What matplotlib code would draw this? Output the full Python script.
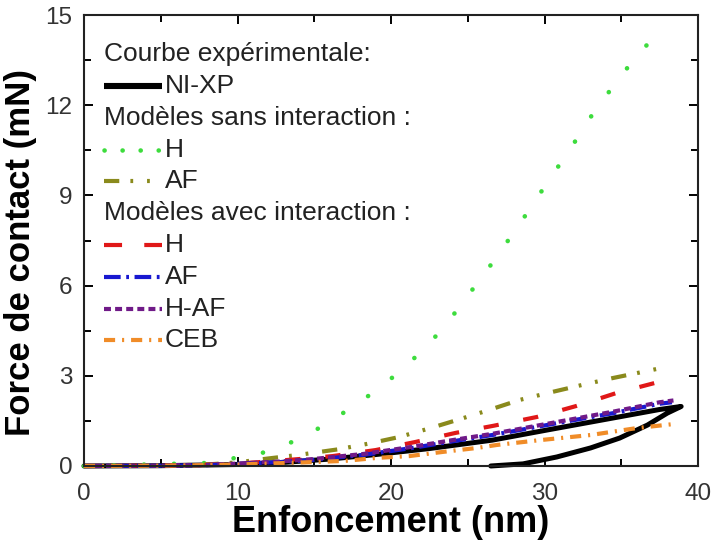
import numpy as np
import matplotlib
matplotlib.use("Agg")
import matplotlib.pyplot as plt

plt.rcParams["font.family"] = ["Liberation Sans", "DejaVu Sans"]
plt.rcParams["lines.scale_dashes"] = False

# -------- données (enfoncement en nm, force en mN) ----------
xp_x = [0, 5, 10, 13, 16, 19, 22.5, 26.6, 30.2, 34.5, 37.5, 38.9,
        38.0, 36.7, 34.9, 33.0, 30.8, 28.6, 26.5]
xp_y = [0, 0.01, 0.05, 0.12, 0.23, 0.38, 0.58, 0.86, 1.20, 1.60, 1.88, 1.98,
        1.76, 1.36, 0.93, 0.60, 0.30, 0.07, 0.0]

h_sans_x = [0, 8, 9.5, 11.1, 12.7, 14.27, 15.83, 17.39, 19.0, 20.55, 22.15,
            23.58, 24.82, 25.99, 27.10, 28.21, 29.25, 30.29, 31.40, 32.44,
            33.42, 34.66, 35.83, 37.26]
h_sans_y = [0, 0.1, 0.24, 0.35, 0.62, 0.95, 1.42, 1.93, 2.5, 3.13, 3.89,
            4.69, 5.55, 6.32, 7.12, 7.92, 8.71, 9.51, 10.34, 11.14,
            11.94, 12.74, 13.54, 14.33]

af_sans_x = [0, 5, 8, 10, 12, 14, 16.5, 18.5, 20.5, 22.5, 24.5, 26,
             28.4, 30.4, 32.4, 34.4, 36.4, 38]
af_sans_y = [0, 0.01, 0.05, 0.12, 0.25, 0.37, 0.55, 0.74, 0.96, 1.25, 1.56,
             1.80, 2.20, 2.45, 2.69, 2.92, 3.13, 3.30]

h_avec_x = [0, 5, 8, 10, 12, 14, 16.2, 19, 21.6, 24.2, 26.7, 29.5, 32.1,
            34.7, 37.4, 38]
h_avec_y = [0, 0.01, 0.04, 0.08, 0.15, 0.23, 0.33, 0.53, 0.80, 1.10, 1.34,
            1.63, 2.0, 2.43, 2.79, 2.92]

af_avec_x = [0, 5, 8, 10, 12.8, 14.9, 18.2, 21.4, 24, 26.6, 27.9, 31.2,
             34.5, 37.5, 38.3]
af_avec_y = [0, 0.01, 0.03, 0.07, 0.13, 0.20, 0.37, 0.60, 0.82, 1.03, 1.15,
             1.46, 1.76, 2.07, 2.12]

haf_avec_x = [0, 5, 8, 10, 12.8, 14.9, 18.2, 21.4, 24, 26.6, 27.9, 31.2,
              34.5, 37.5, 38.4]
haf_avec_y = [0, 0.01, 0.03, 0.08, 0.15, 0.23, 0.40, 0.64, 0.86, 1.07, 1.19,
              1.50, 1.81, 2.12, 2.18]

ceb_x = [0, 5, 8, 10, 12, 14.9, 17, 19.1, 21.2, 23.4, 25.6, 26.9, 29.7,
         33, 36, 38.5]
ceb_y = [0, 0.01, 0.03, 0.05, 0.08, 0.13, 0.17, 0.27, 0.33, 0.47, 0.60,
         0.70, 0.86, 1.03, 1.26, 1.40]

# couleur, épaisseur, tirets (en points)
STYLES = {
    "xp":      dict(color="black",   lw=3.6, ls="-"),
    "h_sans":  dict(color="#3ddc3d", lw=3.3, ls=(0, (0.1, 21.5)), cap="round",
                    leg_ls=(0, (0.1, 12.9))),
    "af_sans": dict(color="#8a8a1c", lw=3.0, ls=(0, (11, 8, 2, 10, 2, 10))),
    "h_avec":  dict(color="#e01818", lw=3.0, ls=(0, (11, 18)),
                    leg_ls=(0, (13, 16))),
    "af_avec": dict(color="#1818d0", lw=3.0, ls=(0, (12, 4, 2, 4))),
    "haf":     dict(color="#701a88", lw=3.0, ls=(0, (5, 3))),
    "ceb":     dict(color="#f08c28", lw=3.0, ls=(0, (8, 5, 1.5, 5))),
}

fig = plt.figure(figsize=(7.13, 5.44), dpi=100)
ax = fig.add_axes([0.1178, 0.1434, 0.979 - 0.1178, 0.9724 - 0.1434])

series = [
    (xp_x, xp_y, "xp"),
    (h_sans_x, h_sans_y, "h_sans"),
    (af_sans_x, af_sans_y, "af_sans"),
    (h_avec_x, h_avec_y, "h_avec"),
    (af_avec_x, af_avec_y, "af_avec"),
    (haf_avec_x, haf_avec_y, "haf"),
    (ceb_x, ceb_y, "ceb"),
]
for x, y, key in series:
    st = STYLES[key]
    ax.plot(x, y, color=st["color"], lw=st["lw"], linestyle=st["ls"],
            dash_capstyle=st.get("cap", "butt"), solid_capstyle="round",
            clip_on=False)

ax.set_xlim(0, 40)
ax.set_ylim(0, 15)
ax.set_xticks([0, 10, 20, 30, 40])
ax.set_xticks(np.arange(0, 41, 5), minor=True)
ax.set_yticks([0, 3, 6, 9, 12, 15])
ax.set_yticks(np.arange(0, 15.1, 1.5), minor=True)
ax.tick_params(which="both", direction="in", top=True, right=True,
               width=1.4, labelsize=17.5, labelcolor="#333333")
ax.tick_params(which="major", length=6.5)
ax.tick_params(which="minor", length=5)
ax.tick_params(axis="x", which="both", pad=12)
ax.tick_params(axis="y", which="both", pad=8.5)
for sp in ax.spines.values():
    sp.set_linewidth(1.5)
    sp.set_color("#222222")

ax.set_xlabel("Enfoncement (nm)", fontsize=26, fontweight="bold", labelpad=0)
ax.set_ylabel("Force de contact (mN)", fontsize=25, fontweight="bold")
ax.yaxis.set_label_coords(-0.077, 0.473)

# -------- légende ----------
leg_rows = [
    ("Courbe expérimentale:", None),
    ("NI-XP", "xp"),
    ("Modèles sans interaction :", None),
    ("H", "h_sans"),
    ("AF", "af_sans"),
    ("Modèles avec interaction :", None),
    ("H", "h_avec"),
    ("AF", "af_avec"),
    ("H-AF", "haf"),
    ("CEB", "ceb"),
]
x0, x1, xt = 0.033, 0.127, 0.132
y_top, dy = 0.913, 0.0705
for i, (label, key) in enumerate(leg_rows):
    yy = y_top - i * dy
    if key is None:
        ax.text(x0, yy, label, transform=ax.transAxes, fontsize=19,
                va="center", ha="left", color="#222222")
        continue
    st = STYLES[key]
    ax.plot([x0, x1], [yy, yy], transform=ax.transAxes, color=st["color"],
            lw=st["lw"] + (0.8 if key == "xp" else 0),
            linestyle=st.get("leg_ls", st["ls"]),
            dash_capstyle=st.get("cap", "butt"), solid_capstyle="butt")
    ax.text(xt, yy, label, transform=ax.transAxes, fontsize=19,
            va="center", ha="left", color="#222222")

fig.savefig("out.png", dpi=100)
